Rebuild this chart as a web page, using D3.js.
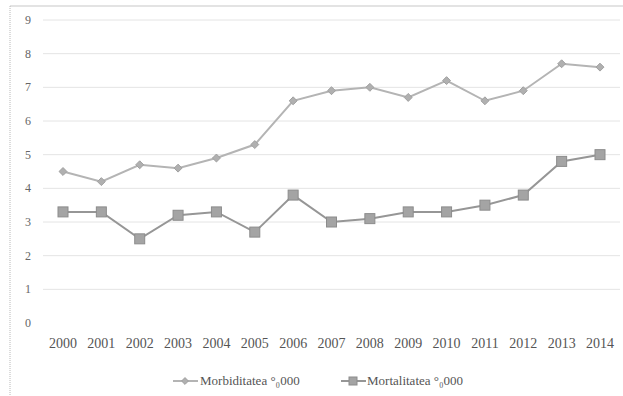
<!DOCTYPE html>
<html>
<head>
<meta charset="utf-8">
<script src="https://cdn.jsdelivr.net/npm/d3@7"></script>
<style>
  body { margin: 0; background: #fff; }
  svg text { font-family: "Liberation Serif", "DejaVu Serif", "Times New Roman", Times, serif; }
</style>
</head>
<body>
<div id="chart"></div>
<script>
(function() {
    let w = 623,
        h = 396;

    const years = ["2000","2001","2002","2003","2004","2005","2006","2007","2008","2009","2010","2011","2012","2013","2014"];
    const morbiditatea = [4.5, 4.2, 4.7, 4.6, 4.9, 5.3, 6.6, 6.9, 7.0, 6.7, 7.2, 6.6, 6.9, 7.7, 7.6];
    const mortalitatea = [3.3, 3.3, 2.5, 3.2, 3.3, 2.7, 3.8, 3.0, 3.1, 3.3, 3.3, 3.5, 3.8, 4.8, 5.0];
    const yTicks = [0, 1, 2, 3, 4, 5, 6, 7, 8, 9];
    const seriesNames = ["Morbiditatea °\u2080000", "Mortalitatea °\u2080000"];

    let svg = d3.select("#chart")
        .append("svg")
        .attr("width", w)
        .attr("height", h);

    // caption of the page above, only its lower edge shows
    svg.append("text")
        .attr("x", 55).attr("y", -3)
        .attr("font-size", 14).attr("font-weight", "bold")
        .attr("fill", "#333")
        .text("incidenţă (‰) 2000-2014");

    // frame
    svg.append("line").attr("x1", 10).attr("y1", 6).attr("x2", w).attr("y2", 6)
        .attr("stroke", "#c8c8c8").attr("stroke-width", 1.2);
    svg.append("line").attr("x1", 10).attr("y1", 6).attr("x2", 10).attr("y2", h)
        .attr("stroke", "#b8b8b8").attr("stroke-width", 1).attr("stroke-dasharray", "1,1");

    let x = d3.scalePoint().domain(years).range([63, 600]);
    let y = d3.scaleLinear().domain([0, 9]).range([323, 20]);

    // gridlines
    svg.append("g")
        .selectAll("line").data(yTicks.filter(d => d > 0)).enter().append("line")
        .attr("x1", 43).attr("x2", 620)
        .attr("y1", d => y(d)).attr("y2", d => y(d))
        .attr("stroke", "#e4e4e4").attr("stroke-width", 1);

    // y axis labels
    svg.append("g")
        .selectAll("text").data(yTicks).enter().append("text")
        .attr("x", 28).attr("y", d => y(d) + 4)
        .attr("text-anchor", "middle")
        .attr("font-size", 12).attr("fill", "#666")
        .text(d => d);

    // x axis labels
    svg.append("g")
        .selectAll("text").data(years).enter().append("text")
        .attr("x", d => x(d)).attr("y", 348)
        .attr("text-anchor", "middle")
        .attr("font-size", 14).attr("fill", "#555")
        .text(d => d);

    let line = d3.line()
        .x((d, i) => x(years[i]))
        .y(d => y(d));

    // Morbiditatea
    svg.append("path").datum(morbiditatea)
        .attr("d", line).attr("fill", "none")
        .attr("stroke", "#b4b4b4").attr("stroke-width", 2);
    svg.append("g").selectAll("path").data(morbiditatea).enter().append("path")
        .attr("d", d3.symbol().type(d3.symbolDiamond2).size(40))
        .attr("transform", (d, i) => "translate(" + x(years[i]) + "," + y(d) + ")")
        .attr("fill", "#b0b0b0").attr("stroke", "#a0a0a0");

    // Mortalitatea
    svg.append("path").datum(mortalitatea)
        .attr("d", line).attr("fill", "none")
        .attr("stroke", "#969696").attr("stroke-width", 2);
    svg.append("g").selectAll("rect").data(mortalitatea).enter().append("rect")
        .attr("x", (d, i) => x(years[i]) - 5).attr("y", d => y(d) - 5)
        .attr("width", 10).attr("height", 10)
        .attr("fill", "#a4a4a4").attr("stroke", "#8c8c8c").attr("stroke-width", 1);

    // legend
    let ly = 381;
    let lg = svg.append("g");
    lg.append("line").attr("x1", 173).attr("x2", 198).attr("y1", ly).attr("y2", ly)
        .attr("stroke", "#b4b4b4").attr("stroke-width", 2);
    lg.append("path").attr("d", d3.symbol().type(d3.symbolDiamond2).size(30))
        .attr("transform", "translate(185," + ly + ")")
        .attr("fill", "#b0b0b0").attr("stroke", "#a0a0a0");
    lg.append("text").attr("x", 200).attr("y", ly + 4)
        .attr("font-size", 13).attr("fill", "#555").text(seriesNames[0]);

    lg.append("line").attr("x1", 341).attr("x2", 366).attr("y1", ly).attr("y2", ly)
        .attr("stroke", "#969696").attr("stroke-width", 2);
    lg.append("rect").attr("x", 349).attr("y", ly - 4).attr("width", 8).attr("height", 8)
        .attr("fill", "#a4a4a4").attr("stroke", "#8c8c8c");
    lg.append("text").attr("x", 367).attr("y", ly + 4)
        .attr("font-size", 13).attr("fill", "#555").text(seriesNames[1]);
})();
</script>
</body>
</html>
